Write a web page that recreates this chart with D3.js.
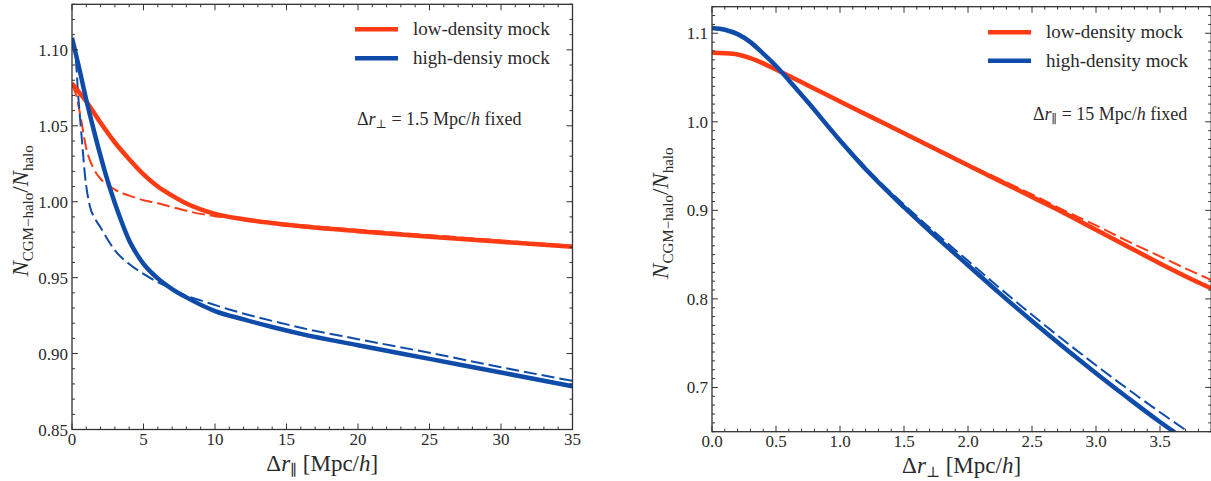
<!DOCTYPE html>
<html><head><meta charset="utf-8">
<script src="https://cdn.jsdelivr.net/npm/d3@7"></script>
<style>
html,body{margin:0;padding:0;background:#fff;}
svg, svg text{font-family:"Liberation Serif","Times New Roman",Tinos,"DejaVu Serif","Noto Serif",serif;}
</style></head>
<body>
<svg id="chart" width="1211" height="481"></svg>
<script>
// ---------- data ----------
const seriesNames = ["low-density mock", "high-densiy mock"];
const seriesNamesRight = ["low-density mock", "high-density mock"];
const colors = ["#ff3b14", "#0f4caa"];

// Left panel: vs Δr_parallel (Mpc/h), Δr_perp = 1.5 fixed
const leftLowSolidX = [0,0.5,1,1.5,2,3,4,5,6,7,8,10,12,15,20,25,30,35];
const leftLowSolidY = [1.078,1.072,1.066,1.059,1.052,1.039,1.028,1.018,1.010,1.004,0.9988,0.992,0.9885,0.9848,0.9806,0.9770,0.9736,0.9703];
const leftLowDashX = [0,0.3,0.6,1,1.5,2,3,4,5,6,7,8,9,10,12,15,20,25,30,35];
const leftLowDashY = [1.077,1.070,1.056,1.035,1.022,1.015,1.008,1.004,1.001,0.999,0.9965,0.994,0.992,0.9905,0.9885,0.9855,0.9815,0.978,0.9745,0.971];
const leftHighSolidX = [0,0.5,1,1.5,2,2.5,3,3.5,4,4.5,5,6,7,8,10,12,14,16,20,25,30,35];
const leftHighSolidY = [1.108,1.088,1.067,1.048,1.030,1.0135,0.999,0.986,0.9745,0.966,0.959,0.9495,0.9425,0.937,0.928,0.9225,0.9175,0.913,0.9055,0.8965,0.8875,0.8785];
const leftHighDashX = [0,0.2,0.45,0.7,0.9,1.25,1.6,2,2.5,3,4,5,6,7,8,9,11,14,16,20,25,30,35];
const leftHighDashY = [1.105,1.100,1.068,1.040,1.018,0.997,0.989,0.983,0.975,0.968,0.959,0.9525,0.947,0.9425,0.938,0.935,0.929,0.9215,0.917,0.9095,0.9005,0.891,0.882];

// Right panel: vs Δr_perp (Mpc/h), Δr_parallel = 15 fixed
const rightLowSolidX = [0,0.1,0.2,0.3,0.4,0.5,0.6,0.75,1,1.25,1.5,1.75,2,2.25,2.5,2.75,3,3.25,3.5,3.75,3.9];
const rightLowSolidY = [1.078,1.0775,1.076,1.072,1.066,1.059,1.052,1.041,1.023,1.005,0.987,0.969,0.951,0.933,0.915,0.897,0.878,0.859,0.840,0.822,0.812];
const rightLowDashX = [0,0.1,0.2,0.3,0.4,0.5,0.6,0.75,1,1.25,1.5,1.75,2,2.25,2.5,2.75,3,3.25,3.5,3.75,3.9];
const rightLowDashY = [1.078,1.0775,1.076,1.072,1.066,1.059,1.052,1.041,1.023,1.005,0.987,0.970,0.952,0.935,0.918,0.900,0.883,0.865,0.848,0.831,0.8215];
const rightHighSolidX = [0,0.1,0.2,0.3,0.4,0.5,0.6,0.75,1,1.25,1.5,1.75,2,2.25,2.5,2.75,3,3.25,3.5,3.75];
const rightHighSolidY = [1.106,1.104,1.099,1.090,1.077,1.063,1.047,1.022,0.979,0.939,0.9035,0.870,0.838,0.806,0.775,0.745,0.716,0.688,0.661,0.636];
const rightHighDashX = [0,0.1,0.2,0.3,0.4,0.5,0.6,0.75,1,1.25,1.5,1.75,2,2.25,2.5,2.75,3,3.25,3.5,3.75];
const rightHighDashY = [1.106,1.104,1.099,1.090,1.077,1.063,1.047,1.022,0.980,0.941,0.9065,0.874,0.843,0.812,0.782,0.753,0.725,0.698,0.672,0.647];

// ticks
const leftXTicks = [0,5,10,15,20,25,30,35];
const leftYTicks = [0.85,0.90,0.95,1.00,1.05,1.10];
const rightXTicks = [0.0,0.5,1.0,1.5,2.0,2.5,3.0,3.5];
const rightYTicks = [0.7,0.8,0.9,1.0,1.1];

// ---------- drawing ----------
const FONT = '"Liberation Serif","Times New Roman",Tinos,"DejaVu Serif","Noto Serif",serif';
const svg = d3.select("#chart");
const axisColor = "#333";
const textColor = "#2a2a2a";

function zip(xs, ys){ return xs.map((x,i)=>[x, ys[i]]); }

function panel(cfg){
  const g = svg.append("g").attr("font-family", FONT);
  const x = d3.scaleLinear().domain(cfg.xDomain).range([cfg.left, cfg.right]);
  const y = d3.scaleLinear().domain(cfg.yDomain).range([cfg.bottom, cfg.top]);
  const id = "clip" + cfg.name;
  svg.append("defs").append("clipPath").attr("id", id)
    .append("rect").attr("x", cfg.left).attr("y", cfg.top)
    .attr("width", cfg.right - cfg.left).attr("height", cfg.bottom - cfg.top);

  const line = d3.line().x(d=>x(d[0])).y(d=>y(d[1])).curve(d3.curveMonotoneX);
  const lines = g.append("g").attr("clip-path", `url(#${id})`);
  cfg.series.forEach(s=>{
    lines.append("path").attr("d", line(zip(s.x, s.y)))
      .attr("fill","none").attr("stroke", s.color)
      .attr("stroke-width", s.dash ? 2 : 4.5)
      .attr("stroke-dasharray", s.dash ? "13,5" : null)
      .attr("stroke-linejoin","round");
  });

  // frame
  g.append("rect").attr("x", cfg.left).attr("y", cfg.top)
    .attr("width", cfg.right-cfg.left).attr("height", cfg.bottom-cfg.top)
    .attr("fill","none").attr("stroke", axisColor).attr("stroke-width", 1.3);

  // ticks inward on all sides
  const tk = g.append("g").attr("stroke", axisColor).attr("stroke-width", 1);
  const xMinor = d3.range(cfg.xDomain[0], cfg.xDomain[1] + 1e-9, cfg.xMinorStep)
    .map(v=>+v.toFixed(6));
  const yMinor = d3.range(Math.ceil(cfg.yDomain[0]/cfg.yMinorStep - 1e-6)*cfg.yMinorStep, cfg.yDomain[1] + 1e-9, cfg.yMinorStep)
    .map(v=>+v.toFixed(6));
  const isMajor = (v, arr) => arr.some(t=>Math.abs(t-v) < 1e-6);
  xMinor.forEach(v=>{
    const len = isMajor(v, cfg.xTicks) ? 6 : 3;
    tk.append("line").attr("x1", x(v)).attr("x2", x(v)).attr("y1", cfg.bottom).attr("y2", cfg.bottom-len);
    tk.append("line").attr("x1", x(v)).attr("x2", x(v)).attr("y1", cfg.top).attr("y2", cfg.top+len);
  });
  yMinor.forEach(v=>{
    const len = isMajor(v, cfg.yTicks) ? 6 : 3;
    tk.append("line").attr("y1", y(v)).attr("y2", y(v)).attr("x1", cfg.left).attr("x2", cfg.left+len);
    tk.append("line").attr("y1", y(v)).attr("y2", y(v)).attr("x1", cfg.right).attr("x2", cfg.right-len);
  });

  // tick labels
  g.append("g").selectAll("text").data(cfg.xTicks).join("text")
    .attr("x", d=>x(d)).attr("y", cfg.bottom + 15.5)
    .attr("text-anchor","middle").attr("font-size", 17).attr("fill", textColor)
    .text(d=>cfg.xFmt(d));
  g.append("g").selectAll("text").data(cfg.yTicks).join("text")
    .attr("x", cfg.left - 4).attr("y", d=>y(d) + 6)
    .attr("text-anchor","end").attr("font-size", 17).attr("fill", textColor)
    .text(d=>cfg.yFmt(d));

  // x axis title: Δr_sub [Mpc/h]
  const xt = g.append("text").attr("x", (cfg.left+cfg.right)/2).attr("y", cfg.bottom + 41)
    .attr("text-anchor","middle").attr("font-size", 23).attr("fill", textColor);
  xt.append("tspan").text("Δ");
  xt.append("tspan").attr("font-style","italic").text("r");
  xt.append("tspan").attr("font-size", 15).attr("dy", 4).text(cfg.sub);
  xt.append("tspan").attr("dy", -4).text(" [Mpc/");
  xt.append("tspan").attr("font-style","italic").text("h");
  xt.append("tspan").text("]");

  // y axis title
  const yt = g.append("text")
    .attr("transform", `translate(${cfg.left - 44},${(cfg.top+cfg.bottom)/2 - 6}) rotate(-90)`)
    .attr("text-anchor","middle").attr("font-size", 23).attr("fill", textColor);
  yt.append("tspan").attr("font-style","italic").text("N");
  yt.append("tspan").attr("font-size", 15).attr("dy", 5).text("CGM−halo");
  yt.append("tspan").attr("dy", -5).text("/");
  yt.append("tspan").attr("font-style","italic").text("N");
  yt.append("tspan").attr("font-size", 15).attr("dy", 5).text("halo");

  // legend
  cfg.legend.forEach((name, i)=>{
    const ly = cfg.legY[i];
    g.append("line").attr("x1", cfg.legX).attr("x2", cfg.legX + 43)
      .attr("y1", ly).attr("y2", ly).attr("stroke", colors[i]).attr("stroke-width", 4.5);
    g.append("text").attr("x", cfg.legX + 58).attr("y", ly + 6)
      .attr("font-size", 19).attr("fill", textColor).text(name);
  });

  // annotation
  const an = g.append("text").attr("x", cfg.annX).attr("y", cfg.annY)
    .attr("font-size", 18).attr("fill", textColor);
  an.append("tspan").text("Δ");
  an.append("tspan").attr("font-style","italic").text("r");
  an.append("tspan").attr("font-size", 12).attr("dy", 3).text(cfg.annSub);
  an.append("tspan").attr("dy", -3).text(" = " + cfg.annVal + " Mpc/");
  an.append("tspan").attr("font-style","italic").text("h");
  an.append("tspan").text(" fixed");
}

panel({
  name:"L", left:72, right:572.5, top:4.3, bottom:429.5,
  xDomain:[0,35], yDomain:[0.85,1.13], xMinorStep:1, yMinorStep:0.01,
  xTicks:leftXTicks, yTicks:leftYTicks,
  xFmt:d3.format("d"), yFmt:d3.format(".2f"),
  sub:"∥",
  series:[
    {x:leftLowDashX, y:leftLowDashY, color:colors[0], dash:true},
    {x:leftHighDashX, y:leftHighDashY, color:colors[1], dash:true},
    {x:leftLowSolidX, y:leftLowSolidY, color:colors[0], dash:false},
    {x:leftHighSolidX, y:leftHighSolidY, color:colors[1], dash:false}
  ],
  legend:seriesNames, legX:355, legY:[29.3,58.3],
  annX:357, annY:125, annSub:"⊥", annVal:"1.5"
});

panel({
  name:"R", left:712, right:712+3.9*128, top:6.7, bottom:431.7,
  xDomain:[0,3.9], yDomain:[0.65,1.13], xMinorStep:0.1, yMinorStep:0.01,
  xTicks:rightXTicks, yTicks:rightYTicks,
  xFmt:d3.format(".1f"), yFmt:d3.format(".1f"),
  sub:"⊥",
  series:[
    {x:rightLowDashX, y:rightLowDashY, color:colors[0], dash:true},
    {x:rightHighDashX, y:rightHighDashY, color:colors[1], dash:true},
    {x:rightLowSolidX, y:rightLowSolidY, color:colors[0], dash:false},
    {x:rightHighSolidX, y:rightHighSolidY, color:colors[1], dash:false}
  ],
  legend:seriesNamesRight, legX:988, legY:[32.3,60.7],
  annX:1033, annY:120, annSub:"∥", annVal:"15"
});
</script>
</body></html>
